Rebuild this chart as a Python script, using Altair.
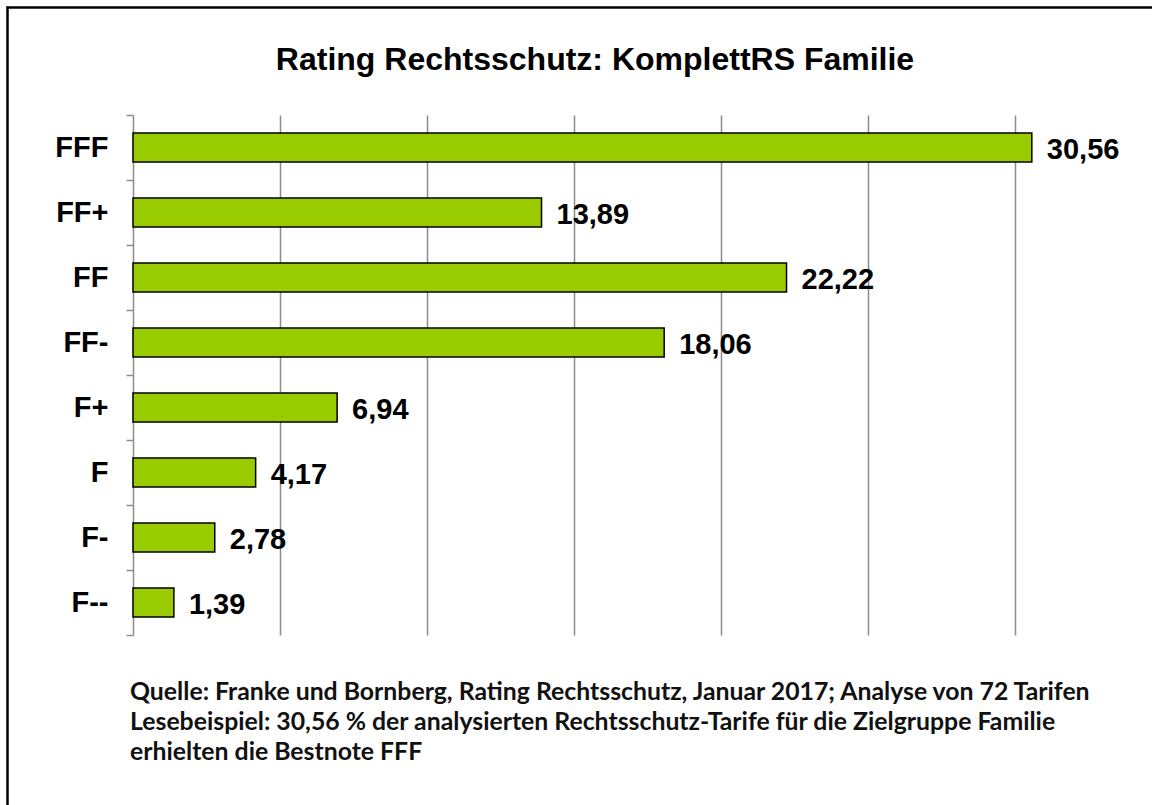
import altair as alt
import pandas as pd

categories = ["FFF", "FF+", "FF", "FF-", "F+", "F", "F-", "F--"]
values = [30.56, 13.89, 22.22, 18.06, 6.94, 4.17, 2.78, 1.39]
grid_values = [5, 10, 15, 20, 25, 30]
title_text = "Rating Rechtsschutz: KomplettRS Familie"
footnote_lines = [
    "Quelle: Franke und Bornberg, Rating Rechtsschutz, Januar 2017; Analyse von 72 Tarifen",
    "Lesebeispiel: 30,56 % der analysierten Rechtsschutz-Tarife für die Zielgruppe Familie",
    "erhielten die Bestnote FFF",
]

df = pd.DataFrame({
    "cat": categories,
    "val": values,
    "label": [f"{v:.2f}".replace(".", ",") for v in values],
})

W, H = 1000, 520
PAD_R, PAD_B = 19, 170
FONT = "Liberation Sans"

x_enc = alt.X(
    "val:Q",
    scale=alt.Scale(domain=[0, 34], nice=False, zero=True),
    axis=alt.Axis(values=grid_values, labels=False, ticks=False, domain=False,
                  grid=True, gridColor="#8c8c8c", gridWidth=1.5, title=None),
)
y_enc = alt.Y(
    "cat:N",
    sort=categories,
    scale=alt.Scale(paddingInner=0, paddingOuter=0),
    axis=alt.Axis(title=None, labelFont=FONT, labelFontSize=29, labelFontWeight="bold",
                  labelColor="black", labelPadding=18, tickBand="extent", tickSize=7,
                  tickColor="#8c8c8c", tickWidth=1.5, domainColor="#8c8c8c",
                  domainWidth=1.5),
)

base = alt.Chart(df)
bars = base.mark_bar(size=29, color="#99CC00", stroke="black", strokeWidth=1.5).encode(
    x=x_enc, y=y_enc
)
labels = base.mark_text(align="left", baseline="middle", dx=15, dy=2, font=FONT,
                        fontSize=29, fontWeight="bold", color="black").encode(
    x="val:Q", y=alt.Y("cat:N", sort=categories), text="label:N"
)

one = pd.DataFrame({"t": [title_text]})
title = alt.Chart(one).mark_text(align="center", baseline="alphabetic", font=FONT,
                                 fontSize=32, fontWeight="bold", color="black").encode(
    x=alt.value(462), y=alt.value(-45), text="t:N"
)
foot = alt.Chart(one).mark_text(align="left", baseline="alphabetic", font="Lato",
                                fontSize=24.8, fontWeight="bold", color="#111111",
                                lineHeight=30).encode(
    x=alt.value(-3), y=alt.value(585), text=alt.value(footnote_lines)
)
frame_left = alt.Chart(one).mark_rule(color="black", strokeWidth=2.5, strokeCap="butt").encode(
    x=alt.value(-125.5), y=alt.value(-108.5), y2=alt.value(H + PAD_B)
)
frame_top = alt.Chart(one).mark_rule(color="black", strokeWidth=2.5, strokeCap="butt").encode(
    x=alt.value(-126.5), x2=alt.value(W + PAD_R), y=alt.value(-107.5)
)

chart = alt.layer(bars, labels, title, foot, frame_left, frame_top).properties(
    width=W, height=H,
    autosize=alt.AutoSizeParams(type="none"),
    padding={"left": 133, "top": 115, "right": PAD_R, "bottom": PAD_B},
).configure(background="white").configure_view(stroke=None)

chart.save("out.html", embed_options={"renderer": "svg", "actions": False})
